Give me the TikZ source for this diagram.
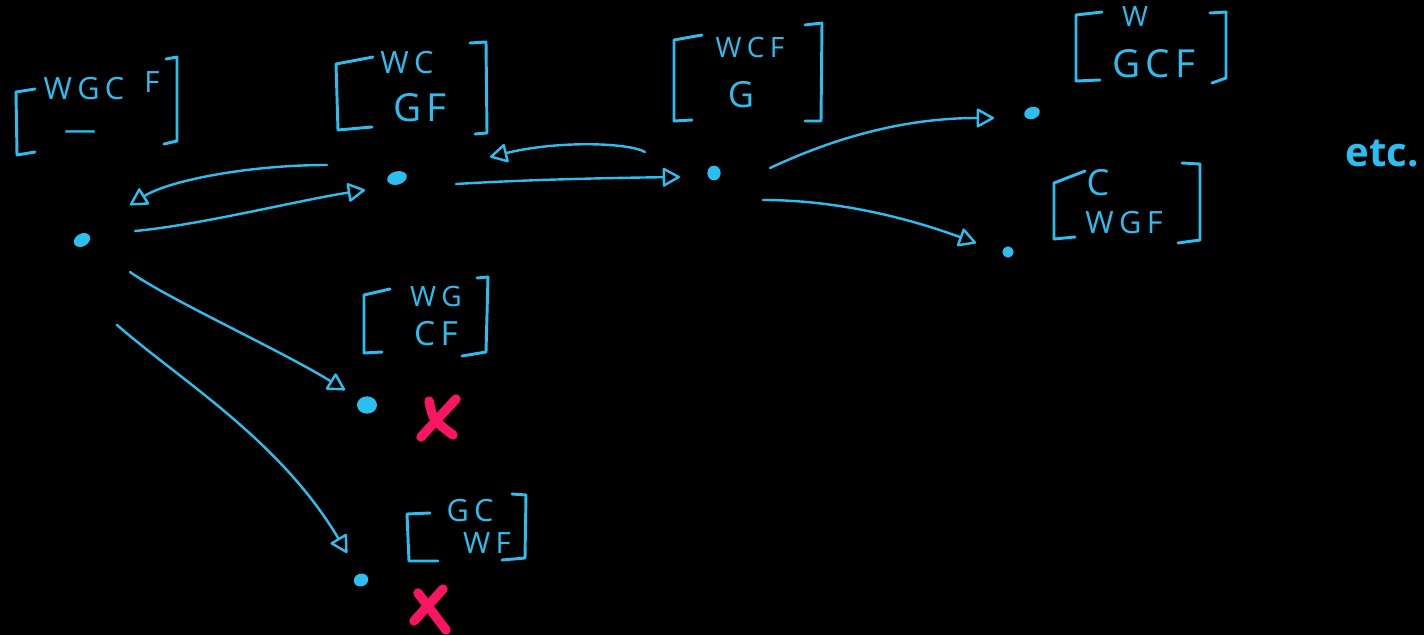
\documentclass[tikz,border=0pt]{standalone}
\usepackage{fontspec}
\setmainfont{Open Sans}
\usetikzlibrary{arrows.meta,calc,shapes.geometric}
\definecolor{ink}{RGB}{45,190,240}
\definecolor{cross}{RGB}{250,20,100}
% space between the letters of a state label
\newcommand\gap{\hspace{4pt}}
\begin{document}
\begin{tikzpicture}[x=0.75pt,y=-0.75pt,
  state/.style={ellipse, fill=ink, draw=none, inner sep=0pt},
  lett/.style={text=ink, inner sep=0pt, font=\fontsize{#1}{#1}\selectfont},
  lett/.default=21,
  brk/.style={draw=ink, line width=2.2pt, line cap=round, line join=round},
  arr/.style={draw=ink, line width=1.8pt, line cap=round, line join=round,
    -{Triangle[open,length=14pt,width=15pt,round]}},
  xmk/.style={draw=cross, line width=7pt, line cap=round}]
\fill[black] (0,0) rectangle (1424,635);
\useasboundingbox (0,0) rectangle (1424,635);

% states
\node[state, minimum width=13pt, minimum height=9.5pt, rotate=30] (s0) at (82,240) {};
\node[state, minimum width=15pt, minimum height=10pt, rotate=15] (s1) at (397,178) {};
\node[state, minimum width=10pt, minimum height=11pt] (s2) at (714,173) {};
\node[state, minimum width=12pt, minimum height=9pt, rotate=20] (s3) at (1032,113) {};
\node[state, minimum width=8.5pt, minimum height=8.5pt] (s4) at (1008,252) {};
\node[state, minimum width=15pt, minimum height=13pt] (s5) at (367,405) {};
\node[state, minimum width=11pt, minimum height=9.5pt, rotate=20] (s6) at (361,580) {};

% brackets round each configuration
\draw[brk] (35,89) -- (16,92) -- (17,155) -- (35,152);
\draw[brk] (166,59) -- (177,57) -- (177,141) -- (164,144);
\draw[brk] (373,57) -- (336,64) -- (338,130) -- (372,127);
\draw[brk] (470,43) -- (486,42) -- (487,133) -- (475,134);
\draw[brk] (702,35) -- (674,40) -- (674,121) -- (692,120);
\draw[brk] (805,25) -- (822,23) -- (821,121) -- (805,121);
\draw[brk] (1102,12) -- (1076,15) -- (1076,81) -- (1100,80);
\draw[brk] (1210,13) -- (1226,12) -- (1226,78) -- (1212,83);
\draw[brk] (1085,171) -- (1054,183) -- (1054,239) -- (1075,237);
\draw[brk] (1182,163) -- (1200,164) -- (1200,240) -- (1178,243);
\draw[brk] (390,289) -- (364,295) -- (364,353) -- (382,352);
\draw[brk] (477,278) -- (488,277) -- (486,352) -- (462,356);
\draw[brk] (430,513) -- (407,514) -- (409,561) -- (438,561);
\draw[brk] (512,494) -- (526,495) -- (525,558) -- (502,560);

% bank contents
\node[lett=23] (t0a) at (84,89) {W\gap G\gap C};
\node[lett=22] (t0f) at (152,82) {F};
\node[lett=24] (t0b) at (80,136) {—};
\node[lett=23] (t1a) at (407,63) {W\gap C};
\node[lett=29] (t1b) at (420,108) {G\gap F};
\node[lett=21] (t2a) at (750,47) {W\gap C\gap F};
\node[lett=27] (t2b) at (741,95) {G};
\node[lett=21] (t3a) at (1135,17) {W};
\node[lett=29] (t3b) at (1154,64) {G\gap C\gap F};
\node[lett=27] (t4a) at (1098,183) {C};
\node[lett=23] (t4b) at (1124,223) {W\gap G\gap F};
\node[lett=21] (t5a) at (436,296) {W\gap G};
\node[lett=25] (t5b) at (436,334) {C\gap F};
\node[lett=23] (t6a) at (470,511) {G\gap C};
\node[lett=22] (t6b) at (487,543) {W\gap F};

\node[text=ink, inner sep=0pt, font=\bfseries\fontsize{30}{30}\selectfont] (etc) at (1382,154) {etc.};

% moves between states
\draw[arr] ($(s1)+(-70,-13)$) .. controls (250,165) and (170,180) .. ($(s0)+(48,-35)$);
\draw[arr] ($(s0)+(53,-9)$) .. controls (200,225) and (300,200) .. ($(s1)+(-32,12)$);
\draw[arr] ($(s2)+(-69,-21)$) .. controls (630,143) and (560,140) .. ($(s1)+(93,-21)$);
\draw[arr] ($(s1)+(59,6)$) .. controls (520,180) and (600,178) .. ($(s2)+(-34,4)$);
\draw[arr] ($(s2)+(56,-5)$) .. controls (830,140) and (900,118) .. ($(s3)+(-38,5)$);
\draw[arr] ($(s2)+(49,27)$) .. controls (830,200) and (900,215) .. ($(s4)+(-32,-9)$);
\draw[arr] ($(s0)+(48,32)$) .. controls (170,300) and (280,350) .. ($(s5)+(-22,-15)$);
\draw[arr] ($(s0)+(35,85)$) .. controls (180,380) and (280,440) .. ($(s6)+(-14,-27)$);

% forbidden states
\draw[xmk] (429,401) .. controls (433,420) .. (453,435);
\draw[xmk] (456,399) -- (421,437);
\draw[xmk] (418,593) -- (446,630);
\draw[xmk] (443,589) -- (414,621);
\end{tikzpicture}
\end{document}
